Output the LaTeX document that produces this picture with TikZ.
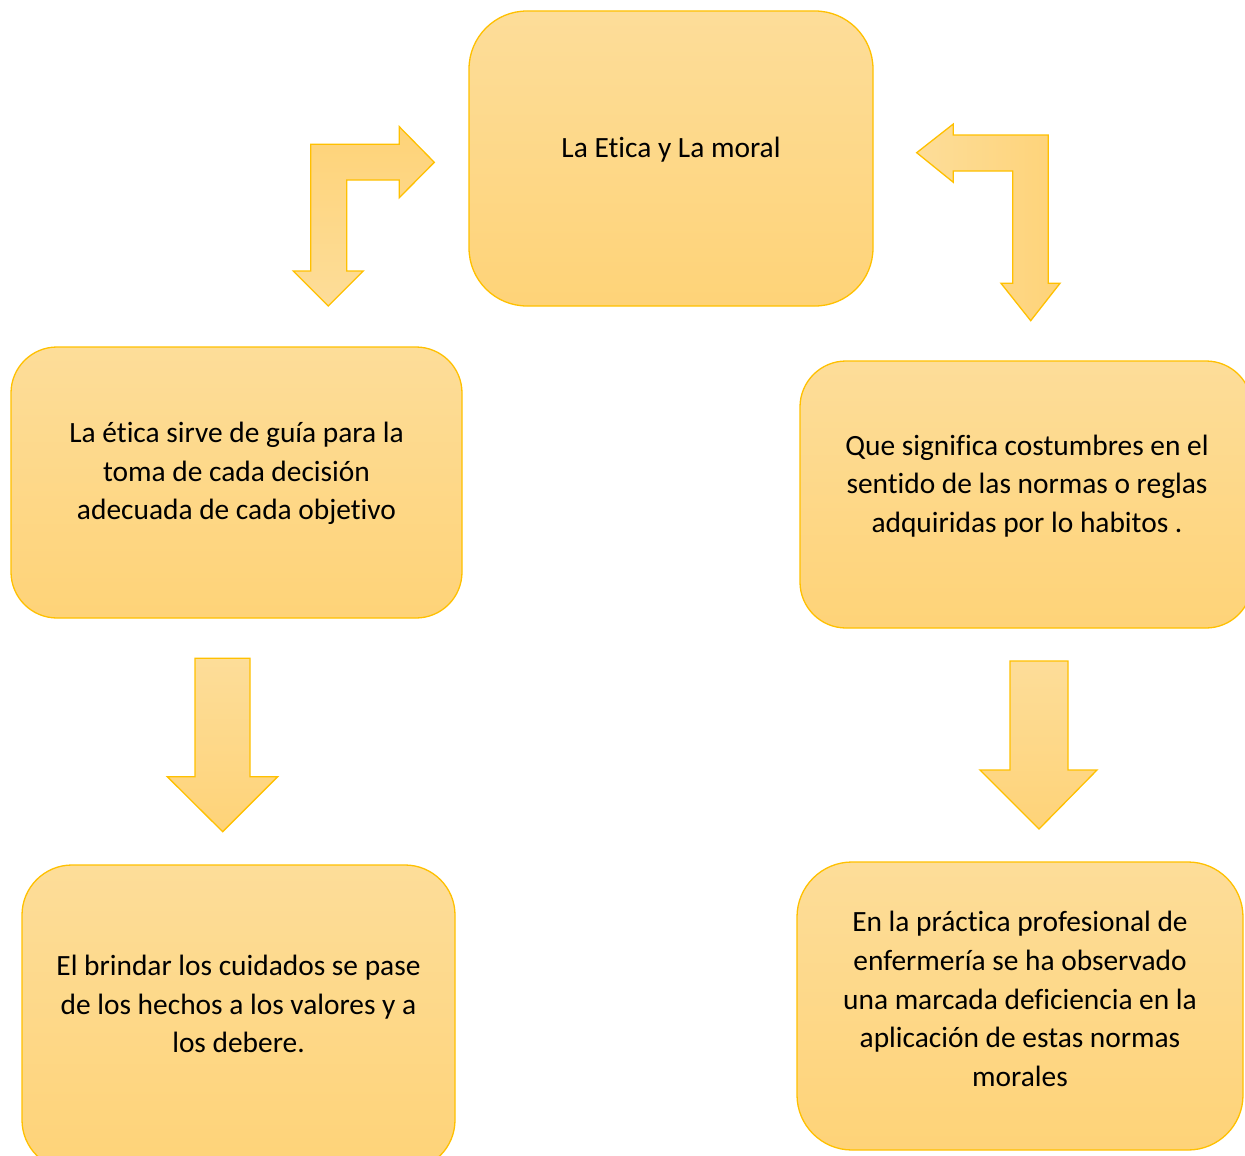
\documentclass[tikz,border=0pt]{standalone}
\usepackage{fontspec}
\setmainfont{Carlito}[Ligatures=NoCommon]
\definecolor{gold}{RGB}{255,192,0}
\definecolor{lightfill}{RGB}{253,221,153}
\definecolor{darkfill}{RGB}{254,211,120}
\newcommand{\boxtxtfont}{\fontsize{29.4}{38.7}\selectfont}
\begin{document}
\begin{tikzpicture}[x=1pt,y=-1pt,
  box/.style={draw=gold,line width=1.3pt,top color=lightfill,bottom color=darkfill,inner sep=0pt},
  txt/.style={align=center,font=\boxtxtfont,inner sep=0pt},
  blockarrow/.style={draw=gold,line width=1.3pt,line join=miter}]
\useasboundingbox (0,0) rectangle (1245,1156);
% boxes
\draw[box,rounded corners=58] (469,11) rectangle (873,306);
\node[txt] (top) at (671,150) {La Etica y La moral};
\draw[box,rounded corners=46] (11,347) rectangle (462,618);
\node[txt] (left) at (236.5,473.5) {La ética sirve de guía para la\\toma de cada decisión\\adecuada de cada objetivo};
\draw[box,rounded corners=46] (800,361) rectangle (1252,628);
\node[txt] (right) at (1027,486) {Que significa costumbres en el\\sentido de las normas o reglas\\adquiridas por lo habitos .};
\draw[box,rounded corners=50] (22,865) rectangle (455,1170);
\node[txt] (bl) at (238.5,1004) {El brindar los cuidados se pase\\de los hechos a los valores y a\\los debere.};
\draw[box,rounded corners=55] (797,862) rectangle (1243,1150);
\node[txt] (br) at (1020,999) {En la práctica profesional de\\enfermería se ha observado\\una marcada deficiencia en la\\aplicación de estas normas\\morales};
% bent arrow left
\draw[blockarrow,top color=darkfill,bottom color=lightfill]
  (310.7,144.3) -- (399.3,144.3) -- (399.3,126.7) -- (434.3,162.3) -- (399.3,197.7)
  -- (399.3,180) -- (346.7,180) -- (346.7,271) -- (363.3,271) -- (328.3,306)
  -- (293.3,271) -- (310.7,271) -- cycle;
% bent arrow right
\draw[blockarrow,left color=lightfill,right color=darkfill]
  (1048.3,135) -- (953.3,135) -- (953.3,124) -- (916.7,152.7) -- (953.3,182.3)
  -- (953.3,171) -- (1012.7,171) -- (1012.7,283.3) -- (1001,283.3) -- (1030.7,320.7)
  -- (1060,283.3) -- (1048.3,283.3) -- cycle;
% down arrows
\draw[blockarrow,top color=lightfill,bottom color=darkfill]
  (195,658.3) -- (250,658.3) -- (250,776.7) -- (277.7,776.7) -- (222.7,831.7)
  -- (167.3,776.7) -- (195,776.7) -- cycle;
\draw[blockarrow,top color=lightfill,bottom color=darkfill]
  (1010,661) -- (1068,661) -- (1068,770) -- (1097,770) -- (1039,829)
  -- (980,770) -- (1010,770) -- cycle;
\end{tikzpicture}
\end{document}
